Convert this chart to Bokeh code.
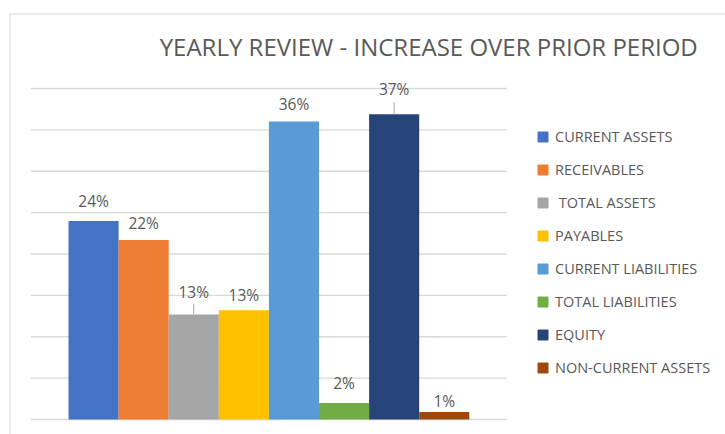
import math
from bokeh.plotting import figure
from bokeh.models import ColumnDataSource, Range1d, Span, Legend, LegendItem, Label
from bokeh.embed import file_html
from bokeh.resources import INLINE
from bokeh.core.properties import value

# ---- data ----
categories = ["CURRENT ASSETS", "RECEIVABLES", " TOTAL ASSETS", "PAYABLES",
              "CURRENT LIABILITIES", "TOTAL LIABILITIES", "EQUITY", "NON-CURRENT ASSETS"]
increase_pct = [24.0, 21.7, 12.7, 13.2, 36.0, 2.0, 36.9, 0.9]
grid_ticks = [0, 5, 10, 15, 20, 25, 30, 35, 40]
title_text = "YEARLY REVIEW - INCREASE OVER PRIOR PERIOD"

# ---- styles ----
colors = ["#4472C4", "#ED7D31", "#A5A5A5", "#FFC000", "#5B9BD5", "#70AD47", "#264478", "#9E480E"]
label_lift_px = [20, 17, 22, 15, 18, 20, 25, 11]
leader_px = [0, 0, 10, 0, 0, 0, 12, 0]
TEXT = "#595959"
GRID = "#D9D9D9"
FONT = "Open Sans"

n = len(categories)
centers = [i + 0.5 for i in range(n)]
labels = [f"{round(v)}%" for v in increase_pct]
gap = 0.75

W, H = 725, 434
x_start, x_end = -1.178, 13.114
y_start, y_end = -1.813, 49.06

p = figure(width=W, height=H, output_backend="svg", toolbar_location=None,
           x_axis_location=None, y_axis_location=None,
           x_range=Range1d(x_start, x_end), y_range=Range1d(y_start, y_end),
           min_border_left=9, min_border_right=0, min_border_top=13, min_border_bottom=0)
p.outline_line_color = None
p.grid.visible = False
p.background_fill_color = "white"
p.border_fill_color = "white"

# gridlines
p.segment(x0=[-gap] * len(grid_ticks), x1=[n + gap] * len(grid_ticks),
          y0=grid_ticks, y1=grid_ticks, line_color=GRID, line_width=1.3)

src = ColumnDataSource(dict(x=centers, top=increase_pct, color=colors, name=categories,
                            label=labels, lift=[-l for l in label_lift_px]))

# legend proxy markers (hidden under bars)
r_leg = p.scatter(x="x", y=0, size=0, marker="square", fill_color="color",
                  line_color="color", source=src)

p.vbar(x="x", top="top", bottom=0, width=1, fill_color="color", line_color=None, source=src)

# leader lines
lx = [c for c, l in zip(centers, leader_px) if l > 0]
ly = [v for v, l in zip(increase_pct, leader_px) if l > 0]
ll = [l for l in leader_px if l > 0]
p.ray(x=lx, y=ly, length=ll, angle=math.pi / 2, length_units="screen",
      line_color="#A6A6A6", line_width=1)

# data labels
p.text(x="x", y="top", text="label", y_offset="lift", text_align="center",
       text_baseline="middle", text_font=value(FONT), text_font_size="15.5px",
       text_color=TEXT, source=src)

# title
p.add_layout(Label(x=7.19, y=45.1, text=title_text, text_align="center",
                   text_baseline="middle", text_font=FONT, text_font_size="24px",
                   text_color=TEXT))

# legend
items = [LegendItem(label=categories[i], renderers=[r_leg], index=i) for i in range(n)]
legend = Legend(items=items, location=(521, 54), orientation="vertical",
                glyph_width=25, glyph_height=25, label_height=25, spacing=8,
                padding=0, margin=0, label_standoff=-10,
                border_line_color=None, background_fill_alpha=0,
                label_text_font=FONT, label_text_font_size="14.5px", label_text_color=TEXT)
p.add_layout(legend)

# chart border (left and top visible)
p.add_layout(Span(location=x_start, dimension="height", line_color=GRID, line_width=2))
p.add_layout(Span(location=y_end, dimension="width", line_color=GRID, line_width=2))

open("out.html", "w").write(file_html(p, INLINE))
